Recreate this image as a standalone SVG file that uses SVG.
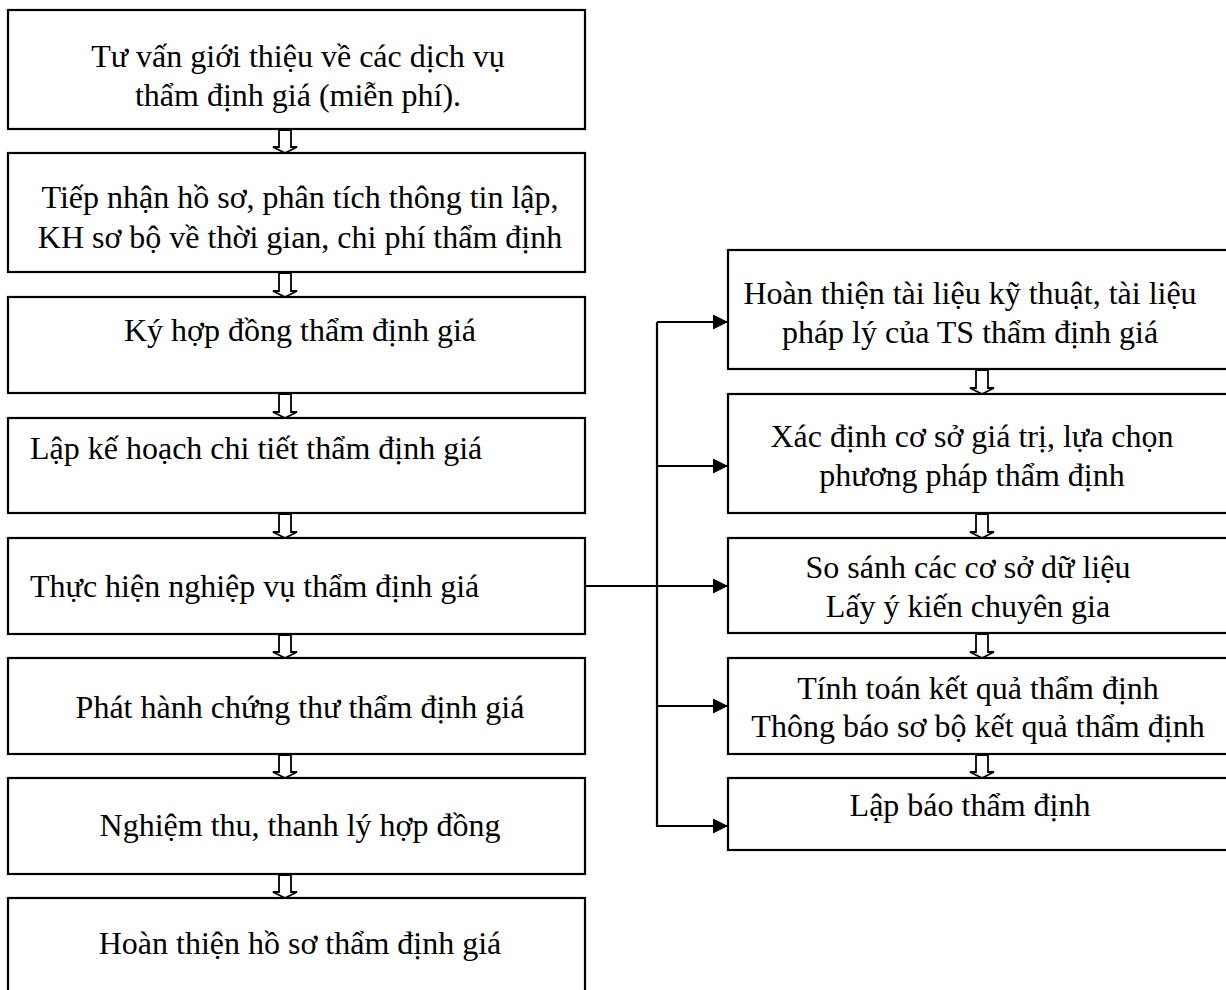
<svg xmlns="http://www.w3.org/2000/svg" width="1226" height="990" viewBox="0 0 1226 990">
<style>
.box{fill:#fff;stroke:#000;stroke-width:2.2}
text{font-family:"Liberation Serif","Times New Roman",serif;font-size:32px;fill:#000}
.c{text-anchor:middle}
.ln{fill:none;stroke:#000;stroke-width:2.2}
.blk{fill:#fff;stroke:#000;stroke-width:1.8;stroke-linejoin:miter}
</style>
<defs>
<marker id="ah" markerWidth="15" markerHeight="15" refX="15" refY="7.5" orient="auto" markerUnits="userSpaceOnUse">
<path d="M0,0 L15,7.5 L0,15 Z" fill="#000"/>
</marker>
</defs>
<rect width="1226" height="990" fill="#fff"/>

<g id="connectors">
<path class="ln" d="M585,586 L728,586"/>
<path class="ln" d="M657,322 L657,827"/>
<path class="ln" d="M657,322 L728,322" marker-end="url(#ah)"/>
<path class="ln" d="M657,466 L728,466" marker-end="url(#ah)"/>
<path class="ln" d="M657,586 L728,586" marker-end="url(#ah)"/>
<path class="ln" d="M657,706 L728,706" marker-end="url(#ah)"/>
<path class="ln" d="M657,826 L728,826" marker-end="url(#ah)"/>
<!-- hollow block arrows, left column -->
<polygon class="blk" points="279,130 279,147 273,147 285,153 297,147 291,147 291,130"/>
<polygon class="blk" points="279,273 279,291 273,291 285,297 297,291 291,291 291,273"/>
<polygon class="blk" points="279,394 279,412 273,412 285,418 297,412 291,412 291,394"/>
<polygon class="blk" points="279,514 279,532 273,532 285,538 297,532 291,532 291,514"/>
<polygon class="blk" points="279,635 279,652 273,652 285,658 297,652 291,652 291,635"/>
<polygon class="blk" points="279,755 279,772 273,772 285,778 297,772 291,772 291,755"/>
<polygon class="blk" points="279,875 279,892 273,892 285,898 297,892 291,892 291,875"/>
<!-- hollow block arrows, right column -->
<polygon class="blk" points="976,370 976,388 970,388 982,394 994,388 988,388 988,370"/>
<polygon class="blk" points="976,514 976,532 970,532 982,538 994,532 988,532 988,514"/>
<polygon class="blk" points="976,634 976,652 970,652 982,658 994,652 988,652 988,634"/>
<polygon class="blk" points="976,755 976,772 970,772 982,778 994,772 988,772 988,755"/>
</g>

<g id="n1">
<rect class="box" x="8" y="10" width="577" height="119"/>
<text class="c" x="298" y="67">Tư vấn giới thiệu về các dịch vụ</text>
<text class="c" x="298" y="106">thẩm định giá (miễn phí).</text>
</g>
<g id="n2">
<rect class="box" x="8" y="153" width="577" height="119"/>
<text class="c" x="300" y="208">Tiếp nhận hồ sơ, phân tích thông tin lập,</text>
<text class="c" x="300" y="248">KH sơ bộ về thời gian, chi phí thẩm định</text>
</g>
<g id="n3">
<rect class="box" x="8" y="297" width="577" height="96"/>
<text class="c" x="300" y="341">Ký hợp đồng thẩm định giá</text>
</g>
<g id="n4">
<rect class="box" x="8" y="418" width="577" height="95"/>
<text x="30" y="459">Lập kế hoạch chi tiết thẩm định giá</text>
</g>
<g id="n5">
<rect class="box" x="8" y="538" width="577" height="96"/>
<text x="30" y="597">Thực hiện nghiệp vụ thẩm định giá</text>
</g>
<g id="n6">
<rect class="box" x="8" y="658" width="577" height="96"/>
<text class="c" x="300" y="718">Phát hành chứng thư thẩm định giá</text>
</g>
<g id="n7">
<rect class="box" x="8" y="778" width="577" height="96"/>
<text class="c" x="300" y="836">Nghiệm thu, thanh lý hợp đồng</text>
</g>
<g id="n8">
<rect class="box" x="8" y="898" width="577" height="110"/>
<text class="c" x="300" y="954">Hoàn thiện hồ sơ thẩm định giá</text>
</g>

<g id="r1">
<rect class="box" x="728" y="250" width="520" height="119"/>
<text class="c" x="970" y="304">Hoàn thiện tài liệu kỹ thuật, tài liệu</text>
<text class="c" x="970" y="343">pháp lý của TS thẩm định giá</text>
</g>
<g id="r2">
<rect class="box" x="728" y="394" width="520" height="119"/>
<text class="c" x="972" y="447">Xác định cơ sở giá trị, lựa chọn</text>
<text class="c" x="972" y="486">phương pháp thẩm định</text>
</g>
<g id="r3">
<rect class="box" x="728" y="538" width="520" height="95"/>
<text class="c" x="968" y="578">So sánh các cơ sở dữ liệu</text>
<text class="c" x="968" y="617">Lấy ý kiến chuyên gia</text>
</g>
<g id="r4">
<rect class="box" x="728" y="658" width="520" height="96"/>
<text class="c" x="978" y="699">Tính toán kết quả thẩm định</text>
<text class="c" x="978" y="737">Thông báo sơ bộ kết quả thẩm định</text>
</g>
<g id="r5">
<rect class="box" x="728" y="778" width="520" height="72"/>
<text class="c" x="970" y="816">Lập báo thẩm định</text>
</g>
</svg>
